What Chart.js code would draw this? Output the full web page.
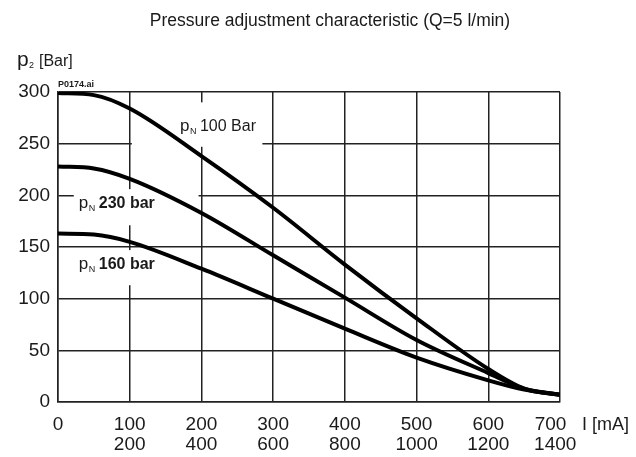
<!DOCTYPE html>
<html>
<head>
<meta charset="utf-8">
<script src="https://cdn.jsdelivr.net/npm/chart.js@4"></script>
<style>
  html, body { margin: 0; padding: 0; background: #fff; }
  #wrap { width: 636px; height: 457px; position: relative; }
</style>
</head>
<body>
<div id="wrap"><canvas id="chart"></canvas></div>
<script>
// Current I [mA] and pressure p2 [Bar]
const current = [0, 50, 100, 200, 300, 400, 500, 600, 650, 700];
const p100 = [299, 297, 284, 238, 188, 133, 81, 32, 13, 7];
const p230 = [228, 226, 216, 183, 142, 101, 60, 28, 13, 7];
const p160 = [163, 162, 155, 129, 100, 71, 43, 21, 12, 7];
const xTicks = [0, 100, 200, 300, 400, 500, 600, 700];
const xTicks2 = ['', '200', '400', '600', '800', '1000', '1200', '1400'];
const yTicks = [0, 50, 100, 150, 200, 250, 300];

const FONT = '"Liberation Sans", Arial, sans-serif';
const INK = '#1a1a1a';

function toPoints(ys) {
    return current.map((x, i) => ({ x: x, y: ys[i] }));
}

function series(label, ys) {
    return {
        label: label,
        data: toPoints(ys),
        borderColor: '#000',
        borderWidth: 4,
        pointRadius: 0,
        cubicInterpolationMode: 'monotone',
        fill: false
    };
}

// white boxes behind the curve labels, then the labels themselves
const annotations = {
    id: 'annotations',
    beforeDatasetsDraw(chart) {
        const ctx = chart.ctx;
        const x = chart.scales.x, y = chart.scales.y;
        ctx.save();
        ctx.fillStyle = '#fff';
        // pN 100 Bar
        ctx.fillRect(x.getPixelForValue(103), y.getPixelForValue(290), x.getPixelForValue(285) - x.getPixelForValue(103), y.getPixelForValue(247) - y.getPixelForValue(290));
        // pN 230 bar
        ctx.fillRect(x.getPixelForValue(22), y.getPixelForValue(206), x.getPixelForValue(196) - x.getPixelForValue(22), y.getPixelForValue(171) - y.getPixelForValue(206));
        // pN 160 bar
        ctx.fillRect(x.getPixelForValue(22), y.getPixelForValue(147), x.getPixelForValue(196) - x.getPixelForValue(22), y.getPixelForValue(113) - y.getPixelForValue(147));
        ctx.restore();
    },
    afterDraw(chart) {
        const ctx = chart.ctx;
        const x = chart.scales.x, y = chart.scales.y;
        ctx.save();
        ctx.fillStyle = INK;
        ctx.textBaseline = 'alphabetic';

        // title
        ctx.font = '17.5px ' + FONT;
        ctx.textAlign = 'center';
        ctx.fillText('Pressure adjustment characteristic (Q=5 l/min)', 330, 26);

        // y axis title
        ctx.textAlign = 'left';
        ctx.font = '21px ' + FONT;
        ctx.fillText('p', 17, 66);
        ctx.font = '9px ' + FONT;
        ctx.fillText('2', 29, 68);
        ctx.font = '16px ' + FONT;
        ctx.fillText('[Bar]', 39, 66);

        // drawing reference
        ctx.font = 'bold 9px ' + FONT;
        ctx.fillText('P0174.ai', 58, 87);

        // x axis title
        ctx.font = '18px ' + FONT;
        ctx.fillText('I [mA]', 582, 430);

        function curveLabel(text, px, py, bold) {
            ctx.font = '17px ' + FONT;
            ctx.fillText('p', px, py);
            ctx.font = '9px ' + FONT;
            ctx.fillText('N', px + 10, py + 3);
            ctx.font = (bold ? 'bold ' : '') + '16px ' + FONT;
            ctx.fillText(text, px + 20, py);
        }
        curveLabel('100 Bar', x.getPixelForValue(170), y.getPixelForValue(262), false);
        curveLabel('230 bar', x.getPixelForValue(29), y.getPixelForValue(188), true);
        curveLabel('160 bar', x.getPixelForValue(29), y.getPixelForValue(129), true);
        ctx.restore();
    }
};

const ctx = document.getElementById('chart').getContext('2d');
const chart = new Chart(ctx, {
    type: 'line',
    data: {
        datasets: [
            series('pN 100 Bar', p100),
            series('pN 230 bar', p230),
            series('pN 160 bar', p160)
        ]
    },
    options: {
        responsive: true,
        maintainAspectRatio: false,
        animation: false,
        events: [],
        layout: { padding: { left: 0, right: 76, top: 92, bottom: 0 } },
        plugins: {
            legend: { display: false },
            title: { display: false },
            tooltip: { enabled: false }
        },
        scales: {
            x: {
                type: 'linear',
                min: 0,
                max: 700,
                afterFit(scale) { scale.height = 55; },
                afterBuildTicks(scale) { scale.ticks = xTicks.map(v => ({ value: v })); },
                grid: { color: '#222', lineWidth: 1.5, drawTicks: false },
                border: { color: '#222', width: 1.5 },
                ticks: {
                    padding: 13,
                    color: INK,
                    maxRotation: 0,
                    autoSkip: false,
                    font: { family: FONT, size: 19, lineHeight: 1.05 },
                    callback(value) {
                        const i = xTicks.indexOf(value);
                        if (!xTicks2[i]) return String(value);
                        // last column sits a little left of its grid line, as in the original
                        if (i === xTicks.length - 1) return [value + '\u2002\u2002', xTicks2[i] + '\u2002'];
                        return [String(value), xTicks2[i]];
                    }
                }
            },
            y: {
                min: 0,
                max: 300,
                afterFit(scale) { scale.width = 58; },
                afterBuildTicks(scale) { scale.ticks = yTicks.map(v => ({ value: v })); },
                grid: { color: '#222', lineWidth: 1.5, drawTicks: false },
                border: { color: '#222', width: 1.5 },
                ticks: {
                    padding: 8,
                    color: INK,
                    font: { family: FONT, size: 19 }
                }
            }
        }
    },
    plugins: [annotations]
});
</script>
</body>
</html>
